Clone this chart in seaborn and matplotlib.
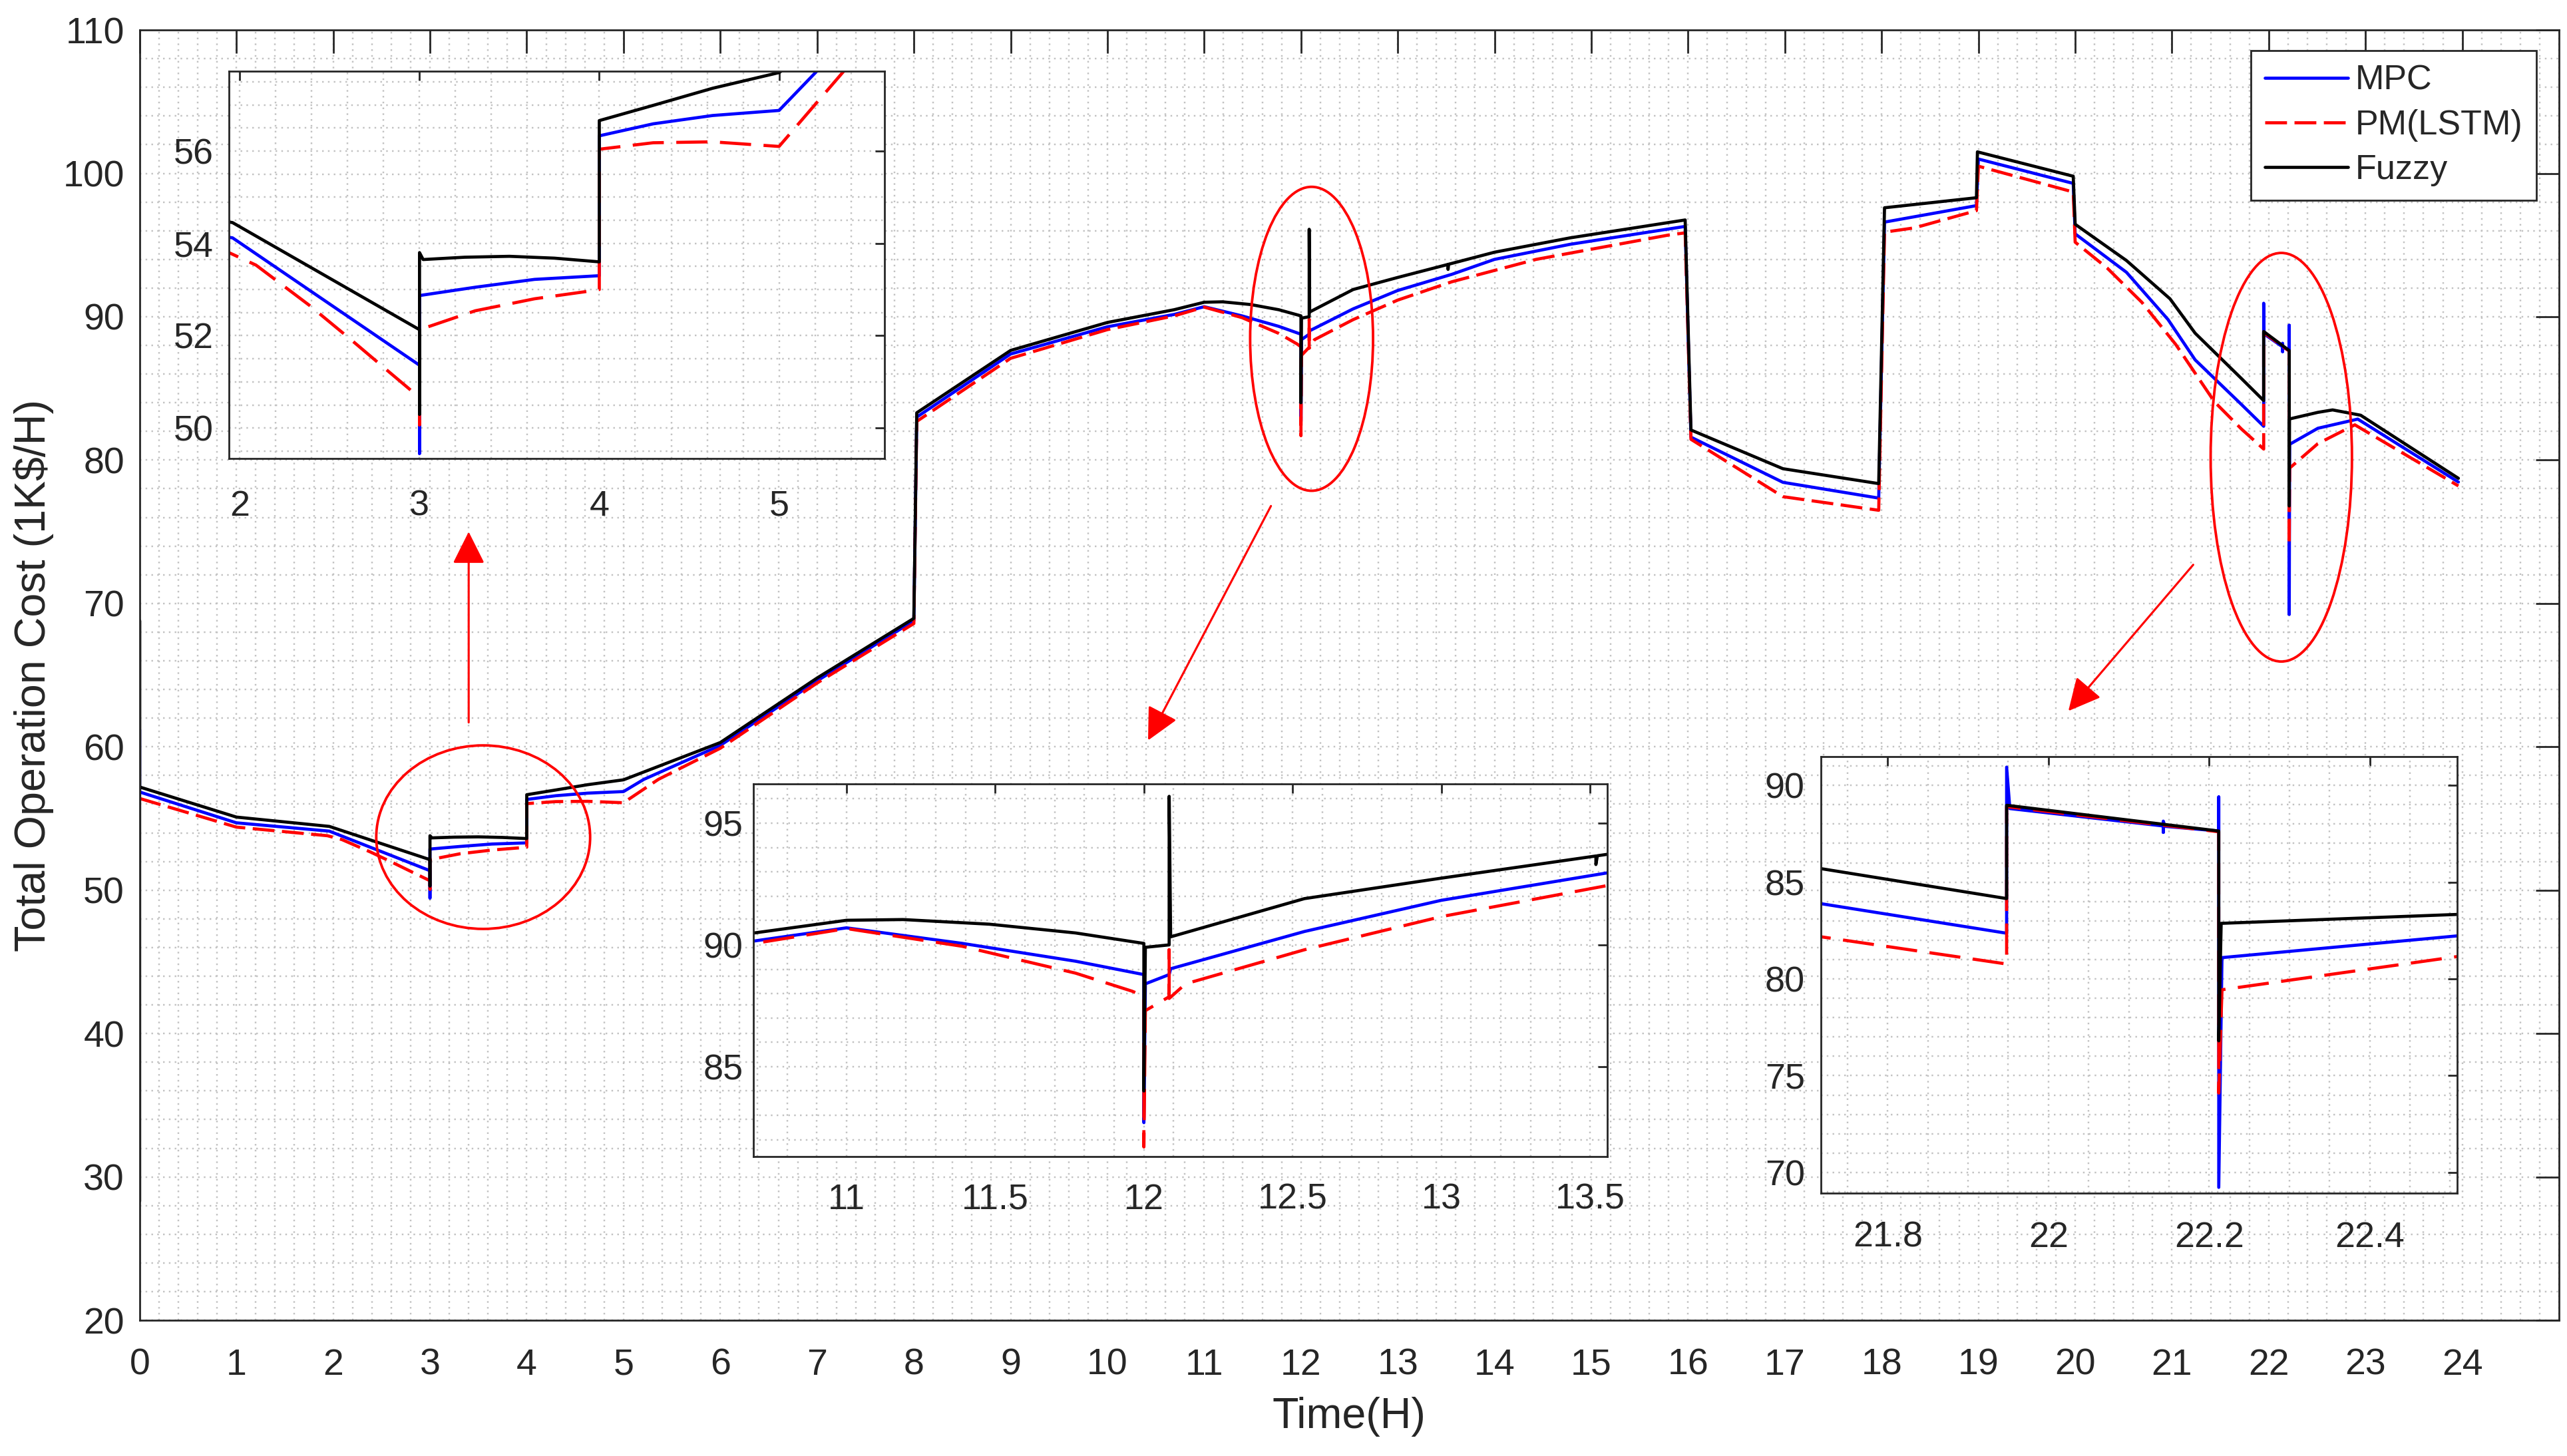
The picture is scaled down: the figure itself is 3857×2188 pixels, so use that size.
import matplotlib
matplotlib.use("Agg")
import matplotlib.pyplot as plt
import seaborn as sns
from matplotlib.patches import Ellipse
from matplotlib.ticker import MultipleLocator, FuncFormatter

# ---------------- data ----------------
t_mpc = [0, 0, 1.0, 1.96, 3.0, 3.0, 3.0, 3.31, 3.64, 4.0, 4.0, 4.3, 4.63, 5.0, 5.21,
         6.0, 7.0, 8.0, 8.03, 9.0, 10.0, 10.69, 11.0, 11.39, 11.77, 12.0, 12.0, 12.005,
         12.085, 12.09, 12.54, 13.0, 13.56, 14.0, 14.78, 15.97, 16.03, 16.98, 17.97, 18.03,
         18.98, 19.0, 19.98, 20.0, 20.53, 20.96, 21.24, 21.718, 21.948, 21.948, 21.952,
         22.143, 22.143, 22.143, 22.145, 22.212, 22.212, 22.212, 22.216, 22.508, 22.92, 23.96]
mpc = [61.2, 56.85, 54.7, 54.12, 51.36, 49.45, 52.87, 53.05, 53.22, 53.3, 56.33, 56.59,
       56.77, 56.88, 57.73, 60.1, 64.6, 68.8, 83.0, 87.4, 89.3, 90.16, 90.7, 90.06, 89.33,
       88.78, 82.7, 88.4, 88.78, 89.02, 90.55, 91.83, 92.96, 94.0, 95.05, 96.3, 81.6, 78.45,
       77.35, 96.6, 97.75, 101.0, 99.3, 95.78, 93.1, 89.8, 86.99, 83.88, 82.36, 90.94, 88.8,
       87.9, 87.57, 88.15, 87.88, 87.64, 89.4, 69.23, 81.1, 82.22, 82.86, 78.47]

t_pm = [0, 1.0, 1.94, 2.09, 2.39, 2.62, 2.82, 3.0, 3.0, 3.0, 3.31, 3.64, 3.97, 4.0, 4.0,
        4.3, 4.63, 5.0, 5.36, 6.0, 7.0, 8.0, 8.03, 9.0, 10.0, 10.69, 11.0, 11.39, 11.77,
        11.96, 12.0, 12.0, 12.005, 12.085, 12.085, 12.085, 12.14, 12.54, 13.0, 13.56, 14.43,
        15.8, 15.97, 16.03, 16.98, 17.97, 18.03, 18.34, 18.98, 19.0, 19.98, 20.0, 20.33,
        20.69, 21.04, 21.44, 21.718, 21.948, 21.948, 22.212, 22.212, 22.216, 22.508, 22.89, 23.96]
pm = [56.4, 54.4, 53.8, 53.53, 52.65, 51.91, 51.25, 50.66, 50.07, 52.13, 52.54, 52.8,
      52.98, 53.0, 56.04, 56.18, 56.2, 56.1, 57.73, 59.9, 64.45, 68.6, 82.7, 87.1, 89.1,
      90.06, 90.67, 89.94, 88.84, 88.1, 87.9, 81.7, 87.3, 87.87, 89.8, 87.8, 88.4, 89.8,
      91.16, 92.44, 94.0, 95.7, 95.85, 81.45, 77.45, 76.5, 95.9, 96.2, 97.4, 100.5, 98.7,
      95.2, 93.4, 91.0, 88.06, 84.06, 82.17, 80.77, 88.9, 87.6, 74.1, 79.44, 81.15, 82.46, 78.2]

t_fuzzy = [0, 0, 0, 1.0, 1.96, 3.0, 3.0, 3.0, 3.02, 3.25, 3.5, 3.75, 4.0, 4.0, 4.3, 4.63,
           5.0, 6.0, 7.0, 8.0, 8.03, 9.0, 10.0, 10.69, 11.0, 11.19, 11.48, 11.77, 12.0, 12.0,
           12.005, 12.085, 12.085, 12.09, 12.54, 13.0, 13.52, 13.52, 13.525, 14.0, 14.78,
           15.97, 16.03, 16.98, 17.97, 18.03, 18.98, 18.99, 19.98, 20.0, 20.53, 20.98, 21.24,
           21.718, 21.948, 21.948, 22.212, 22.212, 22.215, 22.508, 22.66, 22.95, 23.96]
fuzzy = [28.3, 68.8, 57.2, 55.1, 54.45, 52.13, 50.3, 53.8, 53.65, 53.7, 53.72, 53.68, 53.6,
         56.66, 56.99, 57.36, 57.7, 60.3, 64.8, 68.96, 83.3, 87.65, 89.6, 90.49, 91.01, 91.04,
         90.85, 90.49, 90.06, 84.0, 89.9, 90.0, 96.1, 90.33, 91.9, 92.74, 93.65, 93.3, 93.66,
         94.5, 95.5, 96.75, 82.1, 79.4, 78.36, 97.6, 98.3, 101.5, 99.8, 96.45, 93.92, 91.25,
         88.85, 85.69, 84.15, 88.97, 87.64, 76.8, 82.87, 83.33, 83.5, 83.13, 78.73]

series_names = ["MPC", "PM(LSTM)", "Fuzzy"]
main_xticks = list(range(0, 25))
main_yticks = list(range(20, 111, 10))

# ---------------- style ----------------
sns.set_style("white")
plt.rcParams["font.family"] = ["Liberation Sans", "DejaVu Sans"]
DARK = "#262626"
GRID = "#c2c2c2"

fig = plt.figure(figsize=(3857 / 250, 2188 / 250), dpi=250)
ax = fig.add_axes([0.0544, 0.0932, 0.9425, 0.8862])

series = [
    (t_mpc, mpc, "blue", False),
    (t_pm, pm, "red", True),
    (t_fuzzy, fuzzy, "black", False),
]


def draw_lines(a, dash, with_label):
    for (t, y, c, dashed), name in zip(series, series_names):
        kw = dict(label=name) if with_label else {}
        sns.lineplot(x=t, y=y, ax=a, sort=False, estimator=None, color=c,
                     linewidth=1.35, legend=False, **kw)
        if dashed:
            a.lines[-1].set_dashes(dash)


def style_axes(a, xticks, yticks, xminor, yminor, xlim, ylim, tlen, lsize, xpad, ypad):
    a.set_xlim(*xlim)
    a.set_ylim(*ylim)
    a.set_xticks(xticks)
    a.set_yticks(yticks)
    a.xaxis.set_minor_locator(MultipleLocator(xminor))
    a.yaxis.set_minor_locator(MultipleLocator(yminor))
    fmt = FuncFormatter(lambda v, p: "%g" % round(v, 6))
    a.xaxis.set_major_formatter(fmt)
    a.yaxis.set_major_formatter(fmt)
    a.set_axisbelow(True)
    a.grid(which="both", linestyle=(0, (1, 2.6)), color=GRID, linewidth=0.7)
    a.tick_params(which="major", direction="in", length=tlen, width=0.8,
                  top=True, right=True, labelsize=lsize, colors=DARK)
    a.tick_params(axis="x", which="major", pad=xpad)
    a.tick_params(axis="y", which="major", pad=ypad)
    a.tick_params(which="minor", length=0, top=True, right=True)
    for s in a.spines.values():
        s.set_color(DARK)
        s.set_linewidth(0.8)
    a.set_facecolor("white")


draw_lines(ax, (7, 2.4), True)
style_axes(ax, main_xticks, main_yticks, 0.2, 2, (0, 25), (20, 110), 10, 16, 12, 6.6)
ax.set_xlabel("Time(H)", fontsize=18.6, color=DARK, labelpad=6)
ax.set_ylabel(r"Total Operation Cost (1K\$/H)", fontsize=18.6, color=DARK, labelpad=4)

leg = ax.legend(loc="upper right", bbox_to_anchor=(0.9906, 0.984), fontsize=15,
                frameon=True, fancybox=False, edgecolor=DARK, framealpha=1,
                borderaxespad=0, handlelength=2.4, handletextpad=0.2,
                labelspacing=0.35, borderpad=0.4)
leg.get_frame().set_linewidth(0.8)
leg.set_zorder(20)

# ellipses and arrows
for (cx, cy, w, h) in [(3.55, 53.7, 2.21, 12.8), (12.11, 88.46, 1.27, 21.2),
                       (22.13, 80.2, 1.46, 28.5)]:
    ax.add_patch(Ellipse((cx, cy), w, h, fill=False, edgecolor="red", linewidth=1.1, zorder=4))

for (tail, head) in [((3.40, 61.7), (3.40, 75.0)), ((11.69, 76.8), (10.42, 60.45)),
                     ((21.22, 72.7), (19.93, 62.5))]:
    ax.annotate("", xy=head, xytext=tail,
                arrowprops=dict(arrowstyle="-|>", color="red", lw=0.9,
                                mutation_scale=30, shrinkA=0, shrinkB=0), zorder=4)

# insets
ins1 = fig.add_axes([0.0892, 0.6851, 0.2554, 0.266], zorder=5)
draw_lines(ins1, (10, 4), False)
style_axes(ins1, [2, 3, 4, 5], [50, 52, 54, 56], 0.2, 0.5, (1.94, 5.587), (49.34, 57.73),
           4, 15.5, 13.5, 6.6)

ins2 = fig.add_axes([0.2935, 0.2057, 0.3326, 0.2559], zorder=5)
draw_lines(ins2, (10, 4), False)
style_axes(ins2, [11, 11.5, 12, 12.5, 13, 13.5], [85, 90, 95], 0.1, 1, (10.687, 13.558),
           (81.31, 96.61), 4, 15.5, 11.5, 4.5)

ins3 = fig.add_axes([0.7094, 0.1805, 0.2479, 0.2998], zorder=5)
draw_lines(ins3, (10, 4), False)
style_axes(ins3, [21.8, 22.0, 22.2, 22.4], [70, 75, 80, 85, 90], 0.05, 1, (21.717, 22.509),
           (68.93, 91.48), 4, 15.5, 12, 7)

fig.savefig("out.png", dpi=250, facecolor="white")
